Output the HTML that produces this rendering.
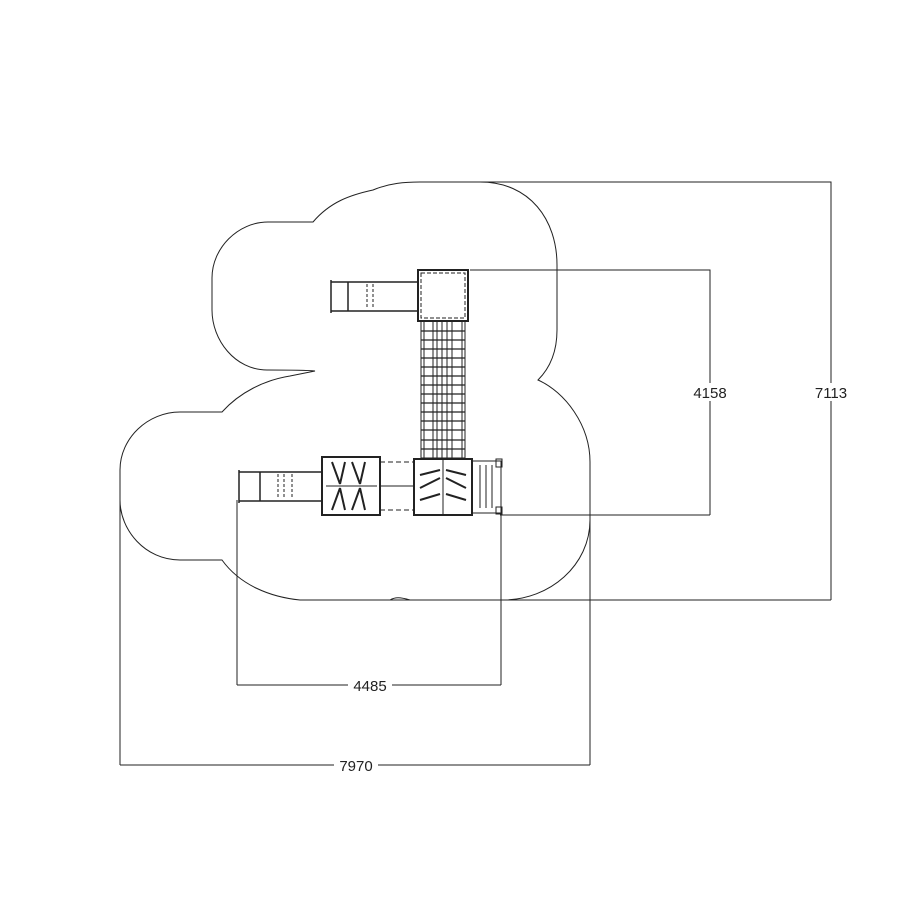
<!DOCTYPE html>
<html><head><style>html,body{margin:0;background:#fff}svg{display:block}</style></head>
<body>
<svg width="900" height="900" viewBox="0 0 900 900" xmlns="http://www.w3.org/2000/svg" font-family="Liberation Sans, sans-serif">
<g fill="none" stroke="#222" stroke-width="1">
<path d="M373,190 C390,183 405,182 420,182 L480,182 C530,182 557,220 557,265 L557,330 C557,355 548,370 538,380 C565,392 590,425 590,462 L590,520 C590,565 550,600 503,600 L410,600 C400,597 395,597 390,600 L300,600 C270,597 240,585 222,560 L180,560 C145,560 120,530 120,500 L120,470 C120,438 148,412 180,412 L222,412 C240,392 265,380 290,376 C300,374 310,372 315,371 C305,370 285,370 267,370 C235,370 212,340 212,310 L212,278 C212,248 238,222 268,222 L313,222 C330,202 350,195 373,190 Z"/>
<!-- dims -->
<path d="M445,182H831V600M350,600H831"/>
<path d="M470,270H710V515M500,515H710"/>
<path d="M237,500V685M501,515V685M237,685H501"/>
<path d="M120,470V765M590,490V765M120,765H590"/>
<!-- top deck -->
<rect x="418" y="270" width="50" height="51" stroke-width="2"/>
<rect x="421" y="273" width="44" height="45" stroke-dasharray="4,2"/>
<!-- top slide -->
<path d="M331,282H418M331,311H418M331,280V313M348,282V311" stroke-width="1.5"/>
<path d="M367,284V309M373,284V309" stroke-dasharray="3,2"/>
<!-- bridge -->
<rect x="421" y="321" width="44" height="137"/>
<path d="M424,321V458M462,321V458M433,321V458M437,321V458M442,321V458M447,321V458M452,321V458" />
<path d="M421,331H465M421,340H465M421,349H465M421,358H465M421,367H465M421,376H465M421,385H465M421,394H465M421,403H465M421,412H465M421,421H465M421,430H465M421,440H465M421,449H465" stroke-width="1.2"/>
<!-- lower right tower -->
<rect x="414" y="459" width="58" height="56" stroke-width="2"/>
<path d="M443,459V515"/>
<path d="M420,475L440,470M420,488L440,478M420,500L440,494M446,470L466,475M446,478L466,488M446,494L466,500" stroke-width="2"/>
<rect x="472" y="461" width="29" height="52"/>
<path d="M480,465V508M486,465V508M492,465V508"/>
<rect x="496" y="459" width="6" height="8"/><rect x="496" y="507" width="6" height="7"/>
<!-- dashed connectors -->
<path d="M380,462H414M380,510H414" stroke-dasharray="5,3"/>
<path d="M380,486H414"/>
<!-- lower left tower -->
<rect x="322" y="457" width="58" height="58" stroke-width="2"/>
<path d="M326,486H377"/>
<path d="M332,462L340,484M345,462L340,484M352,462L360,484M365,462L360,484M332,510L340,488M345,510L340,488M352,510L360,488M365,510L360,488" stroke-width="2"/>
<!-- lower slide -->
<path d="M239,472H322M239,501H322M239,470V503M260,472V501" stroke-width="1.5"/>
<path d="M278,474V499M284,474V499M292,474V499" stroke-dasharray="3,2"/>
</g>
<g font-size="15" fill="#222" text-anchor="middle">
<rect x="690" y="383" width="40" height="18" fill="#fff"/><text x="710" y="398">4158</text>
<rect x="812" y="383" width="38" height="18" fill="#fff"/><text x="831" y="398">7113</text>
<rect x="348" y="677" width="44" height="16" fill="#fff"/><text x="370" y="691">4485</text>
<rect x="334" y="757" width="44" height="16" fill="#fff"/><text x="356" y="771">7970</text>
</g>
</svg>
</body></html>
